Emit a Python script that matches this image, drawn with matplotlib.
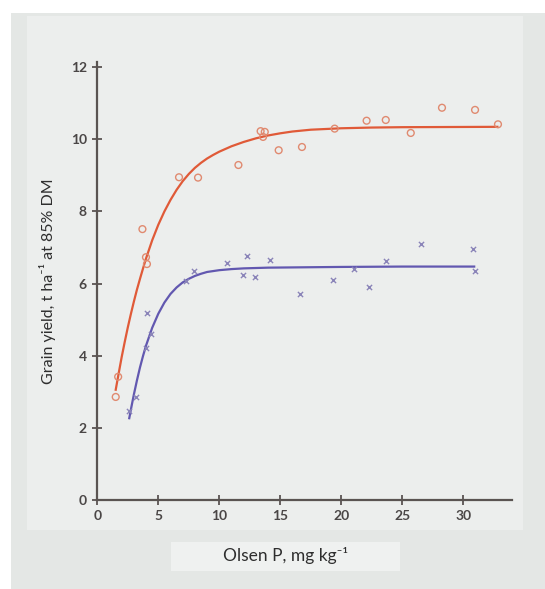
import numpy as np
import matplotlib
matplotlib.use('agg')
import matplotlib.pyplot as plt
from matplotlib.patches import Rectangle

red_x = [1.51, 1.71, 3.70, 3.99, 4.07, 6.70, 8.26, 11.57, 13.39, 13.59, 13.73,
         14.87, 16.78, 19.46, 22.08, 23.65, 25.70, 28.26, 30.97, 32.85]
red_y = [2.85, 3.41, 7.51, 6.73, 6.54, 8.95, 8.94, 9.29, 10.23, 10.07, 10.21,
         9.70, 9.79, 10.30, 10.52, 10.54, 10.18, 10.88, 10.82, 10.42]
blue_x = [2.62, 3.19, 3.99, 4.07, 4.44, 7.26, 7.89, 10.60, 11.97, 12.28, 12.91,
          14.19, 16.58, 19.29, 21.03, 22.28, 23.68, 26.50, 30.77, 31.00]
blue_y = [2.47, 2.85, 4.21, 5.17, 4.59, 6.07, 6.34, 6.57, 6.23, 6.77, 6.18,
          6.64, 5.71, 6.11, 6.39, 5.89, 6.62, 7.09, 6.97, 6.34]

# fitted response curves
red_fx = [1.51, 1.75, 2.0, 2.25, 2.5, 2.75, 3.0, 3.25, 3.5, 3.75, 4.0, 4.5, 5.0,
          5.5, 6.0, 6.5, 7.0, 7.5, 8.0, 8.5, 9.0, 9.5, 10, 11, 12, 13, 14, 15,
          16, 17.5, 20, 22.5, 25, 32.8]
red_fy = [3.05, 3.50, 3.96, 4.38, 4.78, 5.15, 5.50, 5.83, 6.13, 6.42, 6.70, 7.20,
          7.63, 8.00, 8.32, 8.60, 8.84, 9.04, 9.21, 9.35, 9.47, 9.57, 9.66, 9.81,
          9.93, 10.03, 10.11, 10.17, 10.22, 10.27, 10.31, 10.33, 10.34, 10.35]
blue_fx = [2.62, 2.8, 3.0, 3.25, 3.5, 3.75, 4.0, 4.5, 5.0, 5.5, 6.0, 6.5, 7.0,
           7.5, 8.0, 8.5, 9.0, 10, 11, 12, 14, 17, 20, 25, 30.9]
blue_fy = [2.26, 2.58, 2.92, 3.31, 3.67, 3.99, 4.28, 4.77, 5.16, 5.47, 5.71, 5.89,
           6.03, 6.13, 6.21, 6.27, 6.32, 6.37, 6.40, 6.42, 6.44, 6.45, 6.46, 6.47,
           6.47]

xticks = [0, 5, 10, 15, 20, 25, 30]
yticks = [0, 2, 4, 6, 8, 10, 12]

plt.rcParams['font.family'] = ['Lato', 'DejaVu Sans']

W, H = 545, 589
fig = plt.figure(figsize=[W/100, H/100], dpi=100, facecolor='white')

# grey backdrop, lighter panel, label box
fig.patches.append(Rectangle((11/W, 0), 1, 1-13/H, transform=fig.transFigure,
                             facecolor='#e4e7e5', edgecolor='none', zorder=-3))
fig.patches.append(Rectangle((27/W, 1-530/H), 496/W, 514/H, transform=fig.transFigure,
                             facecolor='#eceeed', edgecolor='none', zorder=-2))
fig.patches.append(Rectangle((171/W, 1-571/H), 229/W, 29/H, transform=fig.transFigure,
                             facecolor='#eff1f0', edgecolor='none', zorder=-1))

ax = fig.add_axes([97.3/W, 1-499.6/H, (512-97.3)/W, (499.6-62)/H])
ax.set_facecolor('none')

ax.plot(red_fx, red_fy, color='#e05a38', linewidth=1.6, zorder=3)
ax.plot(blue_fx, blue_fy, color='#6258b0', linewidth=1.6, zorder=3)
ax.scatter(red_x, red_y, s=24, marker='o', facecolors='none',
           edgecolors='#e08a70', linewidths=1.0, zorder=4)
ax.scatter(blue_x, blue_y, s=14, marker='x', color='#8a84b8',
           linewidths=1.0, zorder=4)

ax.set_xlim(0, 34.0)
ax.set_ylim(0, 12.15)
ax.set_xticks(xticks)
ax.set_yticks(yticks)
for s in ['top', 'right']:
    ax.spines[s].set_visible(False)
for s in ['left', 'bottom']:
    ax.spines[s].set_color('#5a5452')
    ax.spines[s].set_linewidth(1.6)
ax.tick_params(direction='inout', length=7, width=1.3, color='#5a5452',
               labelsize=10, labelcolor='#4a4646', pad=4)
for lab in ax.get_xticklabels() + ax.get_yticklabels():
    lab.set_fontweight('bold')

fig.text(48/W, 1-281/H, 'Grain yield, t ha\u207b\u00b9 at 85% DM', rotation=90,
         ha='center', va='center', fontsize=11.5, color='#2e2e2e')
fig.text(286/W, 1-556/H, 'Olsen P, mg kg\u207b\u00b9', ha='center', va='center',
         fontsize=12.5, color='#2e2e2e')

plt.savefig('out.png', dpi=100)
